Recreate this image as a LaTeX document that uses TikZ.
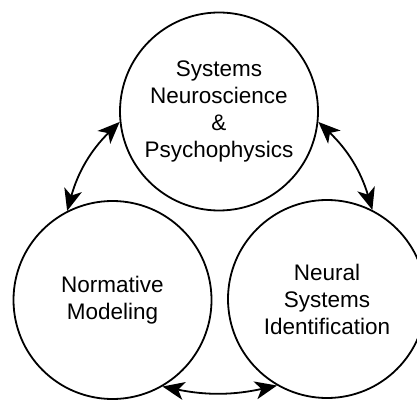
\documentclass[tikz,border=0pt]{standalone}
\usepackage{fontspec}
\setmainfont{Liberation Sans}
\usepackage{tikz}
\usetikzlibrary{arrows.meta}

\begin{document}
\begin{tikzpicture}[
  x=1pt, y=1pt,
  field/.style={circle, draw=black, line width=1.8pt, minimum size=198pt,
                inner sep=0pt, text width=170pt, align=center,
                font=\fontsize{22.5}{27}\selectfont},
  link/.style={{Stealth[length=22pt,width=18pt,inset=6pt]}-{Stealth[length=22pt,width=18pt,inset=6pt]},
               line width=1.8pt},
]
\useasboundingbox (0,0) rectangle (417,399);

% Drei Kreise
\node[field] at (219,287.5) (neuro) {Systems\\Neuroscience\\\&\\Psychophysics};
\node[field] at (112.5,99)  (norm)  {Normative\\Modeling};
\node[field] at (327,100)   (ident) {Neural\\Systems\\Identification};

% Pfeile zwischen den Kreisen
\draw[link] (neuro.186) to[bend right=15] (norm.117);
\draw[link] (neuro.354) to[bend left=15]  (ident.63);
\draw[link] (norm.-60)  to[bend right=12] (ident.240);

\end{tikzpicture}
\end{document}
